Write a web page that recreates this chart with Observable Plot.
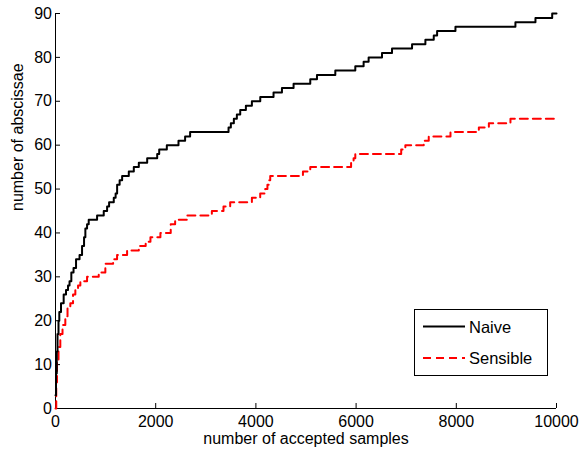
<!DOCTYPE html>
<html><head><meta charset="utf-8">
<script src="https://cdn.jsdelivr.net/npm/d3@7"></script>
<script src="https://cdn.jsdelivr.net/npm/@observablehq/plot@0.6"></script>
<style>
body{margin:0;background:#fff}
#wrap{position:relative;width:581px;height:452px;font-family:"Liberation Sans",Arial,sans-serif}
#legend{position:absolute;left:414px;top:309px;width:134px;height:67px;box-sizing:border-box;border:1px solid #000;background:#fff}
</style>
</head><body><div id="wrap"></div>
<script>
const xTicks = [0, 2000, 4000, 6000, 8000, 10000];
const yTicks = [0, 10, 20, 30, 40, 50, 60, 70, 80, 90];
const xLabel = "number of accepted samples";
const yLabel = "number of abscissae";
const seriesNames = ["Naive", "Sensible"];

const naiveSamples = [0,10,25,40,60,76,110,163,210,250,280,316,360,410,480,530,570,596,630,663,830,963,1030,1070,1163,1200,1230,1280,1330,1463,1563,1663,1830,2030,2070,2222,2455,2587,2687,3454,3500,3560,3620,3687,3800,3920,4087,4352,4520,4752,5085,5219,5585,5984,6150,6250,6517,6717,7117,7383,7550,7617,7983,9180,9580,9914,10000];
const naiveCounts = [3,8,13,17,20,22,24,26,27,28,29,31,32,34,35,37,39,41,42,43,44,45,46,47,48,49,51,52,53,54,55,56,57,58,59,60,61,62,63,64,65,66,67,68,69,70,71,72,73,74,75,76,77,78,79,80,81,82,83,84,85,86,87,88,89,90,90];

const sensibleSamples = [0,15,30,60,96,140,196,240,296,350,396,450,496,630,863,995,1150,1229,1429,1663,1800,1895,2094,2300,2388,2621,3121,3353,3487,3920,4086,4186,4230,4260,4286,4939,5085,5900,5950,5984,6900,6983,7350,7450,7884,8450,8650,9081,10000];
const sensibleCounts = [0,6,11,14,17,19,21,23,24,26,27,28,29,30,31,33,34,35,36,37,38,39,40,42,43,44,45,46,47,48,49,50,51,52,53,54,55,56,57,58,59,60,61,62,63,64,65,66,66];

const naive = naiveSamples.map((s, i) => ({s, n: naiveCounts[i]}));
const sensible = sensibleSamples.map((s, i) => ({s, n: sensibleCounts[i]}));

const plot = Plot.plot({
  width: 581, height: 452,
  marginLeft: 55, marginRight: 25, marginTop: 13, marginBottom: 44,
  style: {fontFamily: '"Liberation Sans", Arial, sans-serif', fontSize: "16px", color: "#000", background: "#fff"},
  x: {domain: [0, 10000]},
  y: {domain: [0, 90]},
  marks: [
    Plot.ruleX([0], {stroke: "#000", strokeWidth: 1}),
    Plot.ruleY([0], {stroke: "#000", strokeWidth: 1}),
    Plot.axisX(xTicks, {tickSize: -5, tickPadding: 12, label: null, tickFormat: d => String(d), stroke: "#000"}),
    Plot.axisY(yTicks, {tickSize: -5, tickPadding: 8.5, label: null, tickFormat: d => String(d), stroke: "#000"}),
    Plot.line(sensible, {x: "s", y: "n", curve: "step-after", stroke: "#ff0000", strokeWidth: 2, strokeDasharray: "8,5"}),
    Plot.line(naive, {x: "s", y: "n", curve: "step-after", stroke: "#000", strokeWidth: 2}),
    Plot.text([xLabel], {text: d => d, frameAnchor: "bottom", dy: 35, fontSize: 16}),
    Plot.text([yLabel], {text: d => d, frameAnchor: "left", rotate: -90, dx: -38, fontSize: 16})
  ]
});
const wrap = document.getElementById("wrap");
wrap.appendChild(plot);

const legend = document.createElement("div");
legend.id = "legend";
const ns = "http://www.w3.org/2000/svg";
const lsvg = document.createElementNS(ns, "svg");
lsvg.setAttribute("width", 132); lsvg.setAttribute("height", 65);
lsvg.style.display = "block";
const styles = [{stroke: "#000", dash: null}, {stroke: "#ff0000", dash: "8,5"}];
seriesNames.forEach((name, i) => {
  const yy = 16.5 + i * 31.5;
  const ln = document.createElementNS(ns, "line");
  ln.setAttribute("x1", 8); ln.setAttribute("x2", 50);
  ln.setAttribute("y1", yy); ln.setAttribute("y2", yy);
  ln.setAttribute("stroke", styles[i].stroke); ln.setAttribute("stroke-width", 2);
  if (styles[i].dash) ln.setAttribute("stroke-dasharray", styles[i].dash);
  lsvg.appendChild(ln);
  const t = document.createElementNS(ns, "text");
  t.setAttribute("x", 54); t.setAttribute("y", yy + 6);
  t.setAttribute("font-size", "16.5px");
  t.setAttribute("font-family", '"Liberation Sans", Arial, sans-serif');
  t.textContent = name;
  lsvg.appendChild(t);
});
legend.appendChild(lsvg);
wrap.appendChild(legend);
</script>
</body></html>
